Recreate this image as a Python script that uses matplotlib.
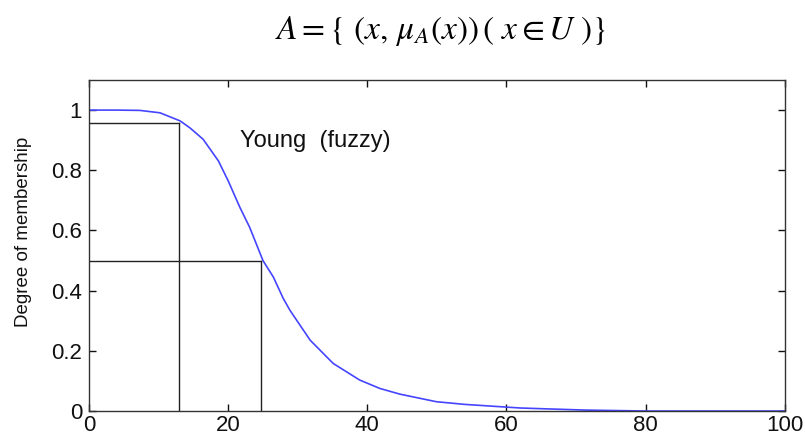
import matplotlib
matplotlib.use('Agg')
import matplotlib.pyplot as plt
import numpy as np

# membership curve for "young", read point by point
age = [0, 4, 7.3, 10.2, 13.1, 14.5, 16.4, 18.6, 20.0, 21.7, 23.1, 25.0,
       26.5, 27.9, 28.9, 31.8, 35.1, 38.9, 41.8, 44.7, 49.9, 54, 58, 62,
       66, 71.5, 80, 90, 100]
membership = [1.0, 1.0, 0.999, 0.991, 0.964, 0.941, 0.903, 0.831, 0.765,
              0.676, 0.610, 0.50, 0.445, 0.375, 0.334, 0.235, 0.158, 0.103,
              0.075, 0.056, 0.031, 0.022, 0.016, 0.01, 0.007, 0.003, 0.0,
              0.0, 0.0]

guides_x = [13.0, 24.7]
guides_y = [0.958, 0.5]

xticks = [0, 20, 40, 60, 80, 100]
yticks = [0, 0.2, 0.4, 0.6, 0.8, 1]

plt.rcParams['font.family'] = ['Liberation Sans', 'DejaVu Sans']
plt.rcParams['mathtext.fontset'] = 'stix'

fig = plt.figure(figsize=(8.05, 4.36), dpi=100)
ax = fig.add_axes([0.1106, 0.0573, 0.8642, 0.7592])

ax.plot(age, membership, color='#4545ff', lw=1.2)
for gx, gy in zip(guides_x, guides_y):
    ax.plot([0, gx], [gy, gy], color='#222222', lw=1)
    ax.plot([gx, gx], [0, gy], color='#222222', lw=1)

ax.text(21.7, 0.897, 'Young  (fuzzy)', fontsize=17, va='center', color='#111111')

ax.set_xlim(0, 100)
ax.set_ylim(0, 1.1)
ax.set_xticks(xticks)
ax.set_yticks(yticks)
ax.set_yticklabels(['0', '0.2', '0.4', '0.6', '0.8', '1'])
ax.tick_params(direction='in', top=True, right=True, length=5, width=1,
               labelsize=16, colors='#111111', pad=5)
ax.tick_params(axis='x', pad=3)
for s in ax.spines.values():
    s.set_color('#333333')
    s.set_linewidth(1)
ax.set_ylabel('Degree of membership', fontsize=13.5, color='#111111')
ax.yaxis.set_label_coords(-0.082, 0.54)

fig.text(0.548, 0.93, r'$A=\{\ (x,\,\mu_A(x))\,\left(\ x\in U\ \right)\}$',
         fontsize=24, ha='center', va='center')

fig.savefig('out.png', dpi=100)
